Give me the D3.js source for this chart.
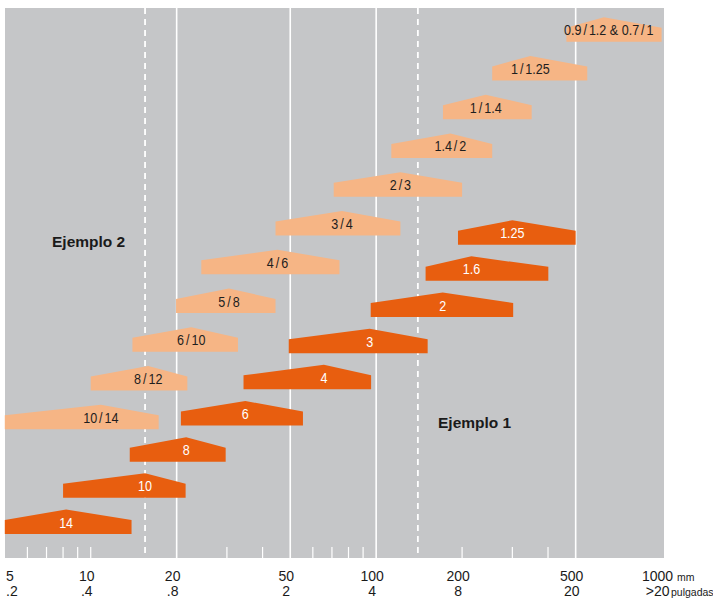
<!DOCTYPE html>
<html>
<head>
<meta charset="utf-8">
<script src="https://cdn.jsdelivr.net/npm/d3@7"></script>
<style>
  html, body { margin: 0; padding: 0; background: #ffffff; }
  svg { display: block; }
</style>
</head>
<body>
<div id="chart"></div>
<script>
// ---------------- data (mm, log axis) ----------------
const darkLabels = ["14", "10", "8", "6", "4", "3", "2", "1.6", "1.25"];
const darkStart  = [5, 8, 13.7, 20.7, 34.3, 49.4, 95.7, 149, 193.5];
const darkPeak   = [8.2, 15.5, 21.6, 34.8, 65.6, 94.9, 171, 215.6, 300];
const darkEnd    = [13.9, 21.5, 29.7, 55.4, 96, 151.5, 302, 401, 500];

const lightLabels = ["10/14", "8/12", "6/10", "5/8", "4/6", "3/4", "2/3", "1.4/2", "1/1.4", "1/1.25", "0.9/1.2 & 0.7/1"];
const lightStart  = [5, 10, 14, 19.9, 24.4, 44.4, 71, 113, 171.4, 255, 464];
const lightPeak   = [10.85, 15.9, 22.5, 30.5, 45.1, 75.9, 121.6, 182, 242, 347, 628];
const lightEnd    = [17.3, 21.8, 32.8, 44.4, 74.4, 121.6, 200, 255, 350.6, 549, 1000];

const gridValues   = [20, 50, 100, 500];
const dashedValues = [15.5, 140];
const minorTicks   = [6, 7, 8, 9, 10, 30, 40, 60, 70, 80, 90, 200, 300, 400];
const tickValues   = [5, 10, 20, 50, 100, 200, 500, 1000];
const mmLabels     = ["5", "10", "20", "50", "100", "200", "500", "1000"];
const inchLabels   = [".2", ".4", ".8", "2", "4", "8", "20", ">20"];

// ---------------- layout ----------------
const W = 713, H = 601;
const plot = { left: 5, right: 664, top: 8, bottom: 558 };
const C = {
  bg: "#c5c6c8", dark: "#e85e0f", light: "#f6b585",
  darkText: "#ffffff", lightText: "#1e1e1e", axisText: "#1a1a1a"
};
const wallH = 14, peakH = 24.5;
const condense = 0.81;

const x = d3.scaleLog().domain([5, 1000]).range([4.8, 661.6]);
const yDark  = d3.scaleLinear().domain([0, darkLabels.length - 1]).range([534, 244.7]);
const yLight = d3.scaleLinear().domain([0, lightLabels.length - 1]).range([429.3, 41.7]);

const svg = d3.select("#chart").append("svg")
  .attr("width", W).attr("height", H)
  .attr("viewBox", `0 0 ${W} ${H}`);

svg.append("rect")
  .attr("x", plot.left).attr("y", plot.top)
  .attr("width", plot.right - plot.left).attr("height", plot.bottom - plot.top)
  .attr("fill", C.bg);

svg.append("g").selectAll("line").data(gridValues).join("line")
  .attr("x1", d => x(d)).attr("x2", d => x(d))
  .attr("y1", plot.top).attr("y2", plot.bottom)
  .attr("stroke", "#fff").attr("stroke-width", 1.6);

svg.append("g").selectAll("line").data(dashedValues).join("line")
  .attr("x1", d => x(d)).attr("x2", d => x(d))
  .attr("y1", plot.top).attr("y2", plot.bottom)
  .attr("stroke", "#fff").attr("stroke-width", 1.8)
  .attr("stroke-dasharray", "6,5");

svg.append("g").selectAll("line").data(minorTicks).join("line")
  .attr("x1", d => x(d)).attr("x2", d => x(d))
  .attr("y1", plot.bottom - 11).attr("y2", plot.bottom)
  .attr("stroke", "#fff").attr("stroke-width", 1.2);

// ---------------- shapes ----------------
function rows(labels, s, p, e) {
  return labels.map((l, i) => ({ label: l, s: s[i], p: p[i], e: e[i], i }));
}
const darkRows = rows(darkLabels, darkStart, darkPeak, darkEnd);
const lightRows = rows(lightLabels, lightStart, lightPeak, lightEnd);

function shapePath(d, yb) {
  const x1 = x(d.s), x2 = x(d.e), xp = x(d.p);
  return `M${x1},${yb}L${x1},${yb - wallH}L${xp},${yb - peakH}L${x2},${yb - wallH}L${x2},${yb}Z`;
}

function drawSeries(data, yScale, fill, textColor) {
  const g = svg.append("g");
  g.selectAll("path").data(data).join("path")
    .attr("d", d => shapePath(d, yScale(d.i)))
    .attr("fill", fill);
  const t = g.selectAll("text").data(data).join("text")
    .attr("x", 0).attr("y", 0)
    .attr("text-anchor", "middle")
    .attr("font-family", "'Liberation Sans', Arial, sans-serif")
    .attr("font-size", 15.5)
    .attr("fill", textColor);
  t.each(function (d) {
    const el = d3.select(this);
    const parts = d.label.split("/");
    parts.forEach((p, k) => {
      if (k > 0) el.append("tspan").attr("dx", 2.4).text("/");
      el.append("tspan").attr("dx", k > 0 ? 2.4 : 0).text(p);
    });
    const w = this.getComputedTextLength() * condense;
    const lo = x(d.s) + w / 2 + 1.5, hi = x(d.e) - w / 2 - 1.5;
    const cx = Math.max(lo, Math.min(hi, x(d.p)));
    el.attr("transform", `translate(${cx},${yScale(d.i) - 6.5}) scale(${condense},1)`);
  });
}
drawSeries(lightRows, yLight, C.light, C.lightText);
drawSeries(darkRows, yDark, C.dark, C.darkText);

// ---------------- annotations ----------------
svg.append("text").attr("x", 52).attr("y", 247)
  .attr("font-family", "'Liberation Sans', Arial, sans-serif")
  .attr("font-weight", "bold").attr("font-size", 15.5).attr("fill", "#1a1a1a")
  .text("Ejemplo 2");
svg.append("text").attr("x", 438).attr("y", 428)
  .attr("font-family", "'Liberation Sans', Arial, sans-serif")
  .attr("font-weight", "bold").attr("font-size", 15.5).attr("fill", "#1a1a1a")
  .text("Ejemplo 1");

// ---------------- axis labels ----------------
function axisRow(labels, yBase) {
  svg.append("g").selectAll("text").data(labels).join("text")
    .attr("y", yBase)
    .attr("text-anchor", "middle")
    .attr("font-family", "'Liberation Sans', Arial, sans-serif")
    .attr("font-size", 14)
    .attr("fill", C.axisText)
    .text(d => d)
    .each(function (d, i) {
      const w = this.getComputedTextLength();
      const cx = Math.max(6 + w / 2, x(tickValues[i]) - 4);
      d3.select(this).attr("x", cx);
    });
}
axisRow(mmLabels, 581);
axisRow(inchLabels, 595.5);

svg.append("text").attr("x", 677).attr("y", 581)
  .attr("font-family", "'Liberation Sans', Arial, sans-serif")
  .attr("font-size", 10.5).attr("fill", C.axisText).text("mm");
svg.append("text").attr("x", 671).attr("y", 595.5)
  .attr("font-family", "'Liberation Sans', Arial, sans-serif")
  .attr("font-size", 10.5).attr("fill", C.axisText).text("pulgadas");
</script>
</body>
</html>
